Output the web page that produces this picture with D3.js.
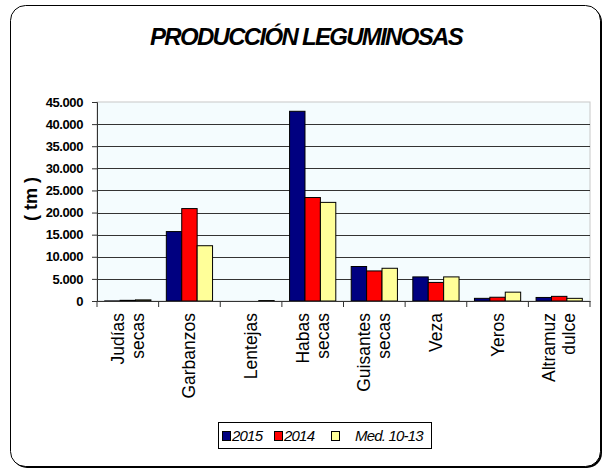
<!DOCTYPE html>
<html>
<head>
<meta charset="utf-8">
<script src="https://cdn.jsdelivr.net/npm/d3@7"></script>
<style>
  body { margin: 0; background: #fff; }
  svg { display: block; font-family: "Liberation Sans", Arial, sans-serif; }
</style>
</head>
<body>
<div id="chart"></div>
<script>
(function(){

// Data
let categories = [['Judías', 'secas'], ['Garbanzos'], ['Lentejas'], ['Habas', 'secas'],
                  ['Guisantes', 'secas'], ['Veza'], ['Yeros'], ['Altramuz', 'dulce']]
let seriesNames = ['2015', '2014', 'Med. 10-13']
let values2015 = [20, 15700, 0, 42900, 7800, 5450, 600, 800]
let values2014 = [150, 20900, 0, 23400, 6800, 4200, 850, 1050]
let valuesMed = [250, 12500, 100, 22300, 7400, 5450, 2000, 600]
let yTicks = [0, 5000, 10000, 15000, 20000, 25000, 30000, 35000, 40000, 45000]
let colors = ['#000080', '#ff0000', '#ffff99']

let W = 605, H = 470
let margin = { top: 102, left: 97, right: 15, bottom: 169 }
let width = W - margin.left - margin.right
let height = H - margin.top - margin.bottom

let svg = d3.select('#chart').append('svg')
  .attr('width', W).attr('height', H)

// outer frame with shadow
svg.append('rect')
  .attr('x', 12).attr('y', 7).attr('width', 590).attr('height', 461)
  .attr('rx', 15).attr('fill', '#000')
svg.append('rect')
  .attr('x', 10.5).attr('y', 5.5).attr('width', 590).attr('height', 461)
  .attr('rx', 15).attr('fill', '#fff').attr('stroke', '#000').attr('stroke-width', 1)

// title
svg.append('text')
  .attr('x', 306).attr('y', 45)
  .attr('text-anchor', 'middle')
  .attr('font-size', 24).attr('font-weight', 'bold').attr('font-style', 'italic')
  .attr('letter-spacing', -1.7)
  .text('PRODUCCIÓN LEGUMINOSAS')

let g = svg.append('g').attr('transform', 'translate(' + margin.left + ',' + margin.top + ')')

let data = categories.map(function(c, i){
  return { key: c.join(' '), lines: c, vals: [values2015[i], values2014[i], valuesMed[i]] }
})

let x = d3.scaleBand().domain(data.map(d => d.key)).range([0, width]).paddingInner(0).paddingOuter(0)
let x1 = d3.scaleBand().domain(seriesNames).range([0, x.bandwidth()]).paddingOuter(0.5).paddingInner(0)
let y = d3.scaleLinear().domain([0, 45000]).range([height, 0])

// plot background
g.append('rect')
  .attr('width', width).attr('height', height)
  .attr('fill', '#f4fcfe').attr('stroke', '#c8c8c8')

// grid lines
g.selectAll('.grid').data(yTicks.filter(t => t > 0 && t < 45000))
  .enter().append('line')
  .attr('x1', 0).attr('x2', width)
  .attr('y1', d => Math.round(y(d)) + 0.5).attr('y2', d => Math.round(y(d)) + 0.5)
  .attr('stroke', '#333').attr('stroke-width', 1)

// bars
let groups = g.selectAll('.grp').data(data).enter().append('g')
  .attr('transform', d => 'translate(' + x(d.key) + ',0)')

groups.selectAll('rect').data(d => d.vals.map((v, i) => ({ s: seriesNames[i], v: v, i: i })))
  .enter().append('rect')
  .attr('x', d => x1(d.s))
  .attr('y', d => y(d.v))
  .attr('width', x1.bandwidth())
  .attr('height', d => height - y(d.v))
  .attr('fill', d => colors[d.i])
  .attr('stroke', '#000').attr('stroke-width', 1)

// y axis
let yAxis = d3.axisLeft(y).tickValues(yTicks).tickSize(5).tickPadding(9)
  .tickFormat(d => d3.format(',')(d).replace(/,/g, '.'))
let ya = g.append('g').call(yAxis)
ya.select('.domain').attr('stroke', '#333')
ya.selectAll('.tick line').attr('stroke', '#333')
ya.selectAll('text').attr('font-size', 13).attr('font-weight', 'bold')
  .attr('font-family', '"Liberation Sans", Arial, sans-serif').attr('letter-spacing', -0.4).attr('fill', '#000')

// x axis
let xAxis = d3.axisBottom(x).tickSize(0).tickFormat('')
let xa = g.append('g').attr('transform', 'translate(0,' + height + ')').call(xAxis)
xa.select('.domain').attr('stroke', '#333')
xa.selectAll('.sep').data(d3.range(categories.length + 1)).enter().append('line')
  .attr('x1', i => i * x.bandwidth()).attr('x2', i => i * x.bandwidth())
  .attr('y1', 0).attr('y2', 6).attr('stroke', '#333')

// x labels, rotated
let lineH = 20
groups.append('text')
  .attr('transform', d => 'translate(' + (x.bandwidth() / 2 - (d.lines.length - 1) * lineH / 2 + 6) + ',' + (height + 12) + ') rotate(-90)')
  .attr('text-anchor', 'end')
  .attr('font-size', 17.5)
  .selectAll('tspan').data(d => d.lines).enter().append('tspan')
  .attr('x', 0).attr('dy', (l, i) => i === 0 ? 0 : lineH)
  .attr('text-anchor', 'end')
  .text(l => l)

// y axis title
svg.append('text')
  .attr('transform', 'translate(37,199) rotate(-90)')
  .attr('text-anchor', 'middle')
  .attr('font-size', 18).attr('font-weight', 'bold')
  .text('( tm )')

// legend
let leg = svg.append('g').attr('transform', 'translate(218,422)')
leg.append('rect').attr('x', 0.5).attr('y', 0.5).attr('width', 213).attr('height', 26)
  .attr('fill', '#fff').attr('stroke', '#000')
let legX = [4, 56, 113]
let legTX = [14, 66, 137]
seriesNames.forEach(function(s, i){
  leg.append('rect').attr('x', legX[i] + 0.5).attr('y', 9.5).attr('width', 8).attr('height', 9)
    .attr('fill', colors[i]).attr('stroke', '#000')
  leg.append('text').attr('x', legTX[i]).attr('y', 19)
    .attr('font-size', 15).attr('font-style', 'italic').attr('letter-spacing', -0.8)
    .text(s)
})

})()
</script>
</body>
</html>
